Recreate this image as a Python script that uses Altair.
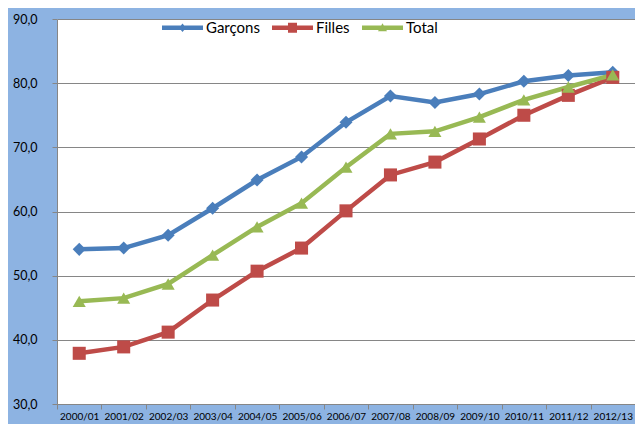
import altair as alt
import pandas as pd

categories = ["2000/01", "2001/02", "2002/03", "2003/04", "2004/05", "2005/06", "2006/07",
              "2007/08", "2008/09", "2009/10", "2010/11", "2011/12", "2012/13"]
garcons = [54.1, 54.3, 56.3, 60.5, 64.9, 68.5, 73.9, 78.0, 77.0, 78.3, 80.3, 81.2, 81.7]
filles = [37.9, 38.9, 41.2, 46.2, 50.7, 54.3, 60.1, 65.7, 67.7, 71.3, 75.0, 78.1, 80.9]
total = [46.0, 46.5, 48.7, 53.2, 57.6, 61.3, 66.9, 72.1, 72.5, 74.7, 77.4, 79.4, 81.3]
series_names = ["Garçons", "Filles", "Total"]
series_colors = ["#4A7EBB", "#BE4B48", "#98B954"]
series_shapes = ["diamond", "square", "triangle-up"]
y_ticks = [30, 40, 50, 60, 70, 80, 90]

rows = []
for name, vals in zip(series_names, [garcons, filles, total]):
    for c, v in zip(categories, vals):
        rows.append({"annee": c, "serie": name, "valeur": v})
df = pd.DataFrame(rows)

FONT = "Lato"
GREY = "#868686"

# legend symbols: a line segment with the series marker in its middle
legend_paths = [
    "M-1,-0.11H1V0.11H-1Z M0,-0.21L0.17,0L0,0.21L-0.17,0Z",
    "M-1,-0.11H1V0.11H-1Z M-0.22,-0.24H0.22V0.24H-0.22Z",
    "M-1,-0.11H1V0.11H-1Z M0,-0.22L0.22,0.17H-0.22Z",
]

legend = alt.Legend(
    title=None, orient="none", legendX=105, legendY=-12, direction="horizontal",
    symbolSize=1681, labelOffset=3, columnPadding=12, labelFont=FONT, labelFontSize=15,
    labelColor="black", symbolStrokeWidth=0, symbolOpacity=1,
)

x_enc = alt.X(
    "annee:N", sort=categories,
    scale=alt.Scale(type="band", range=[0, 578], paddingInner=0, paddingOuter=0),
    axis=alt.Axis(title=None, labelAngle=0, tickBand="extent", tickSize=5, labelPadding=2,
                  labelFont=FONT, labelFontSize=10, labelColor="black", domainColor=GREY,
                  tickColor=GREY, grid=False),
)
y_enc = alt.Y(
    "valeur:Q", scale=alt.Scale(domain=[30, 90], nice=False, zero=False),
    axis=alt.Axis(title=None, values=y_ticks, labelExpr="replace(format(datum.value, '.1f'), '.', ',')",
                  tickSize=5, labelPadding=15, labelFont=FONT, labelFontSize=12.5, labelColor="black",
                  gridColor=GREY, domainColor=GREY, tickColor=GREY),
)
color_enc = alt.Color("serie:N", scale=alt.Scale(domain=series_names, range=series_colors), legend=legend)

lines = alt.Chart(df).mark_line(strokeWidth=4.5).encode(
    x=x_enc, y=y_enc, color=color_enc,
)
point_layers = []
for name, shp in zip(series_names, series_shapes):
    point_layers.append(
        alt.Chart(df).transform_filter(alt.datum.serie == name)
        .mark_point(filled=True, opacity=1, size=170, strokeWidth=0, shape=shp)
        .encode(x=x_enc, y=y_enc, color=color_enc)
    )
legend_layer = alt.Chart(df).mark_point(filled=True, opacity=0, size=1681, strokeWidth=0).encode(
    x=x_enc, y=y_enc, color=color_enc,
    shape=alt.Shape("serie:N", scale=alt.Scale(domain=series_names, range=legend_paths), legend=legend),
)

chart = alt.layer(lines, *point_layers, legend_layer).properties(
    width=578, height=385,
    padding={"left": 49, "top": 11, "right": 0, "bottom": 20},
    autosize=alt.AutoSizeParams(type="none"),
    background="#8DB3E2",
).configure_view(fill="white", strokeWidth=0)

chart.save("out.html", embed_options={"renderer": "svg", "actions": False})
